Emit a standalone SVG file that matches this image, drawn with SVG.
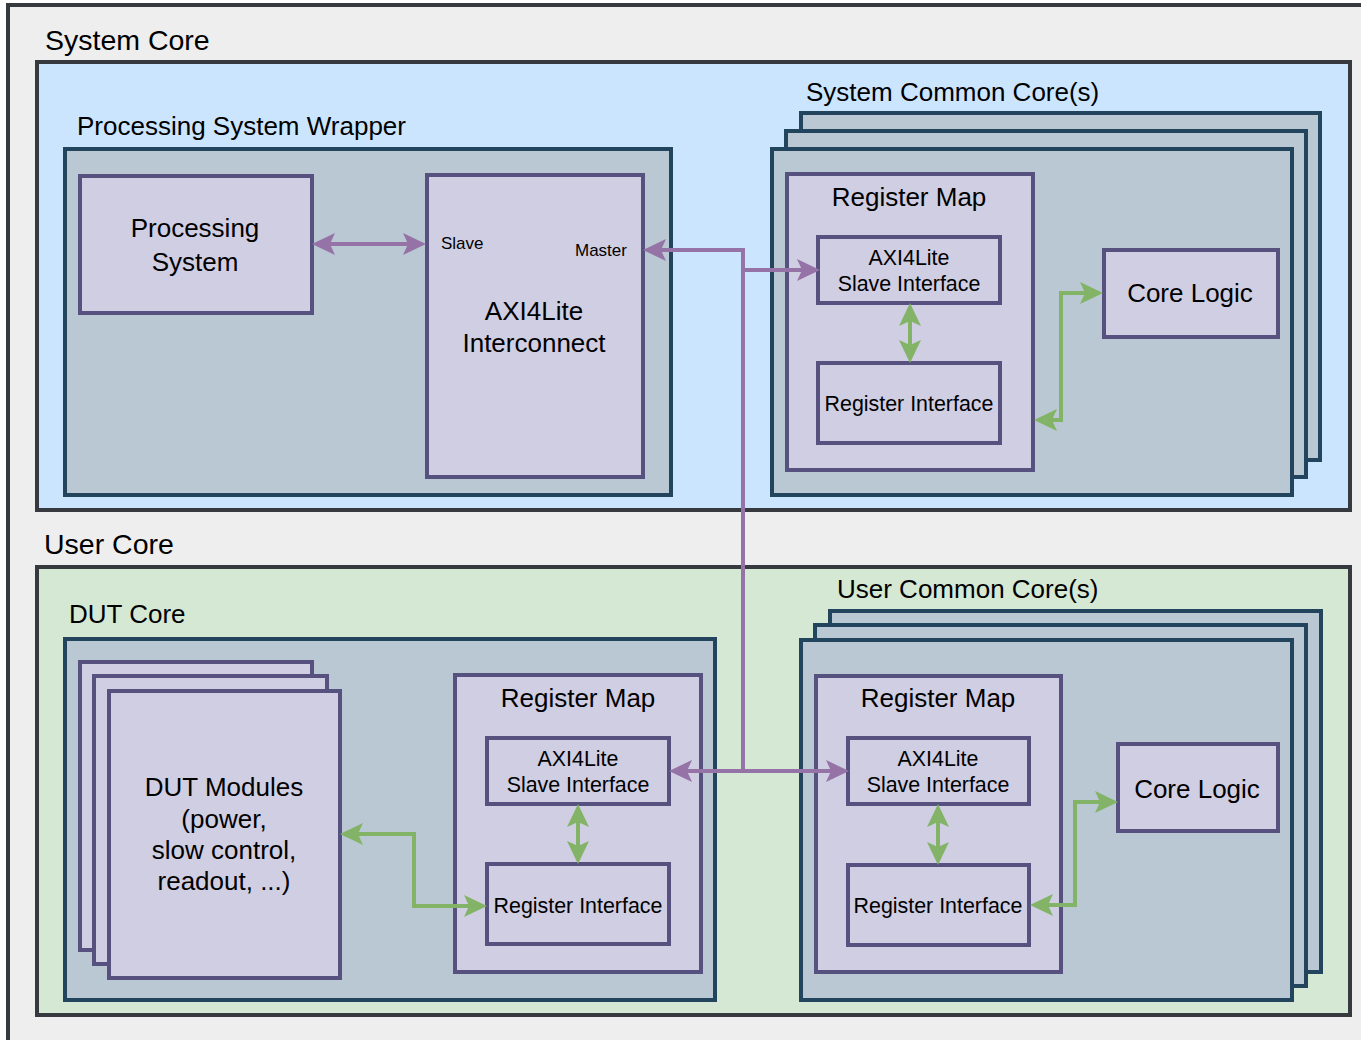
<svg xmlns="http://www.w3.org/2000/svg" width="1361" height="1040" viewBox="0 0 1361 1040">
  <style>
    text { font-family: "Liberation Sans", Arial, Helvetica, sans-serif; fill: #000; }
    .t28 { font-size: 28.5px; }
    .t25 { font-size: 26px; }
    .t21 { font-size: 21.4px; }
    .t17 { font-size: 17px; }
    .mid { text-anchor: middle; }
    .frame { fill: #eeeeee; stroke: #36393d; stroke-width: 4; }
    .sys { fill: #cce5ff; stroke: #36393d; stroke-width: 4; }
    .usr { fill: #d5e8d4; stroke: #36393d; stroke-width: 4; }
    .core { fill: #bac8d3; stroke: #23445d; stroke-width: 4; }
    .blk { fill: #d0cee2; stroke: #56517e; stroke-width: 4; }
    .bus { fill: none; stroke: #9673a6; stroke-width: 4; }
    .reg { fill: none; stroke: #82b366; stroke-width: 4; }
  </style>
  <defs>
    <marker id="arrP" viewBox="0 0 23 22" refX="18" refY="11" markerWidth="23" markerHeight="22" markerUnits="userSpaceOnUse" orient="auto-start-reverse">
      <path d="M0,0 L23,11 L0,22 L5,11 Z" fill="#9673a6"/>
    </marker>
    <marker id="arrG" viewBox="0 0 23 22" refX="18" refY="11" markerWidth="23" markerHeight="22" markerUnits="userSpaceOnUse" orient="auto-start-reverse">
      <path d="M0,0 L23,11 L0,22 L5,11 Z" fill="#82b366"/>
    </marker>
  </defs>

  <rect x="0" y="0" width="1361" height="1040" fill="#ffffff"/>
  <rect class="frame" x="8" y="5" width="1400" height="1100"/>

  <!-- System Core -->
  <g id="system-core">
    <rect class="sys" x="37" y="62" width="1313" height="448"/>
    <text class="t28" x="45" y="50">System Core</text>
  </g>

  <g id="ps-wrapper">
    <rect class="core" x="65" y="149" width="606" height="346"/>
    <text class="t25" x="77" y="135">Processing System Wrapper</text>
  </g>

  <g id="processing-system">
    <rect class="blk" x="80" y="176" width="232" height="137"/>
    <text class="t25 mid" x="195" y="237">Processing</text>
    <text class="t25 mid" x="195" y="271">System</text>
  </g>

  <g id="axi-interconnect">
    <rect class="blk" x="427" y="175" width="216" height="302"/>
    <text class="t17" x="441" y="249">Slave</text>
    <text class="t17" x="575" y="256">Master</text>
    <text class="t25 mid" x="534" y="320">AXI4Lite</text>
    <text class="t25 mid" x="534" y="352">Interconnect</text>
  </g>

  <g id="system-common-cores">
    <rect class="core" x="801" y="113" width="519" height="347"/>
    <rect class="core" x="786" y="131" width="520" height="346"/>
    <rect class="core" x="772" y="149" width="520" height="346"/>
    <text class="t25" x="806" y="101">System Common Core(s)</text>
  </g>

  <g id="sys-register-map">
    <rect class="blk" x="787" y="174" width="246" height="296"/>
    <text class="t25 mid" x="909" y="206">Register Map</text>
  </g>

  <g id="sys-axi-slave">
    <rect class="blk" x="818" y="237" width="182" height="66"/>
    <text class="t21 mid" x="909" y="265">AXI4Lite</text>
    <text class="t21 mid" x="909" y="291">Slave Interface</text>
  </g>

  <g id="sys-register-interface">
    <rect class="blk" x="818" y="363" width="182" height="80"/>
    <text class="t21 mid" x="909" y="411">Register Interface</text>
  </g>

  <g id="sys-core-logic">
    <rect class="blk" x="1104" y="250" width="174" height="87"/>
    <text class="t25 mid" x="1190" y="302">Core Logic</text>
  </g>

  <!-- User Core -->
  <g id="user-core">
    <rect class="usr" x="37" y="567" width="1313" height="448"/>
    <text class="t28" x="44" y="554">User Core</text>
  </g>

  <g id="dut-core">
    <rect class="core" x="65" y="639" width="650" height="361"/>
    <text class="t25" x="69" y="623">DUT Core</text>
  </g>

  <g id="dut-modules">
    <rect class="blk" x="80" y="662" width="232" height="288"/>
    <rect class="blk" x="94" y="676" width="233" height="288"/>
    <rect class="blk" x="109" y="691" width="231" height="287"/>
    <text class="t25 mid" x="224" y="796">DUT Modules</text>
    <text class="t25 mid" x="224" y="828">(power,</text>
    <text class="t25 mid" x="224" y="859">slow control,</text>
    <text class="t25 mid" x="224" y="890">readout, ...)</text>
  </g>

  <g id="dut-register-map">
    <rect class="blk" x="455" y="675" width="246" height="297"/>
    <text class="t25 mid" x="578" y="707">Register Map</text>
  </g>

  <g id="dut-axi-slave">
    <rect class="blk" x="487" y="738" width="182" height="66"/>
    <text class="t21 mid" x="578" y="766">AXI4Lite</text>
    <text class="t21 mid" x="578" y="792">Slave Interface</text>
  </g>

  <g id="dut-register-interface">
    <rect class="blk" x="487" y="864" width="182" height="80"/>
    <text class="t21 mid" x="578" y="913">Register Interface</text>
  </g>

  <g id="user-common-cores">
    <rect class="core" x="830" y="611" width="491" height="361"/>
    <rect class="core" x="815" y="625" width="491" height="361"/>
    <rect class="core" x="801" y="640" width="491" height="360"/>
    <text class="t25" x="837" y="598">User Common Core(s)</text>
  </g>

  <g id="usr-register-map">
    <rect class="blk" x="816" y="676" width="245" height="296"/>
    <text class="t25 mid" x="938" y="707">Register Map</text>
  </g>

  <g id="usr-axi-slave">
    <rect class="blk" x="848" y="738" width="181" height="66"/>
    <text class="t21 mid" x="938" y="766">AXI4Lite</text>
    <text class="t21 mid" x="938" y="792">Slave Interface</text>
  </g>

  <g id="usr-register-interface">
    <rect class="blk" x="848" y="865" width="181" height="80"/>
    <text class="t21 mid" x="938" y="913">Register Interface</text>
  </g>

  <g id="usr-core-logic">
    <rect class="blk" x="1118" y="744" width="160" height="87"/>
    <text class="t25 mid" x="1197" y="798">Core Logic</text>
  </g>

  <!-- Connectors -->
  <g id="connectors">
    <!-- AXI4Lite bus -->
    <path class="bus" d="M317,244 H421" marker-start="url(#arrP)" marker-end="url(#arrP)"/>
    <path class="bus" d="M648,250 H743 V771 H674" marker-start="url(#arrP)" marker-end="url(#arrP)"/>
    <path class="bus" d="M743,270 H815" marker-end="url(#arrP)"/>
    <path class="bus" d="M743,771 H844" marker-end="url(#arrP)"/>
    <!-- register links -->
    <path class="reg" d="M910,308 V358" marker-start="url(#arrG)" marker-end="url(#arrG)"/>
    <path class="reg" d="M1039,420 H1061 V293 H1098" marker-start="url(#arrG)" marker-end="url(#arrG)"/>
    <path class="reg" d="M345,834 H414 V906 H482" marker-start="url(#arrG)" marker-end="url(#arrG)"/>
    <path class="reg" d="M578,809 V859" marker-start="url(#arrG)" marker-end="url(#arrG)"/>
    <path class="reg" d="M938,809 V860" marker-start="url(#arrG)" marker-end="url(#arrG)"/>
    <path class="reg" d="M1035,905 H1075 V802 H1113" marker-start="url(#arrG)" marker-end="url(#arrG)"/>
  </g>
</svg>
